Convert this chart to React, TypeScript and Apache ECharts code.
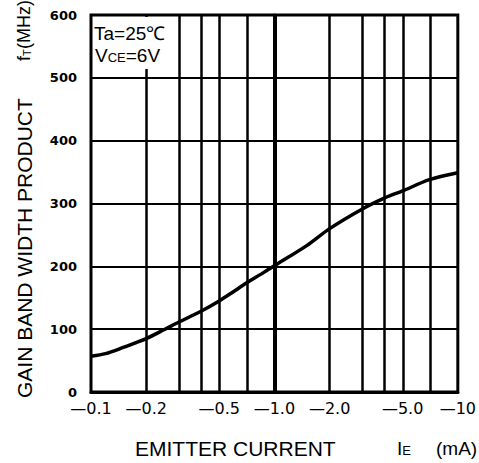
import React, { useEffect, useRef } from "react";
import * as echarts from "echarts";

// Emitter current magnitude (mA) and gain-bandwidth product fT (MHz)
const currents = [0.1, 0.12, 0.15, 0.2, 0.25, 0.3, 0.4, 0.5, 0.6, 0.7, 0.85, 1.0, 1.5, 2, 3, 4, 5, 7, 10];
const fT = [57, 61, 71, 85, 99, 111, 129, 145, 160, 173, 188, 201, 233, 260, 291, 309, 320, 338, 349];

// Vertical grid lines (mA magnitude)
const gridCurrents = [0.2, 0.3, 0.4, 0.5, 0.7, 1, 2, 3, 4, 5, 7];
// X tick labels
const labelCurrents = [0.1, 0.2, 0.5, 1, 2, 5, 10];
const labelTexts = ["—0.1", "—0.2", "—0.5", "—1.0", "—2.0", "—5.0", "—10"];
// Y ticks
const yMin = 0;
const yMax = 600;
const yStep = 100;

const FONT = "'Liberation Sans', Arial, sans-serif";
const TICKFONT = "'DejaVu Sans', sans-serif";

export default function App() {
  const ref = useRef<HTMLDivElement>(null);
  useEffect(() => {
    if (!ref.current) return;
    const chart = echarts.init(ref.current, null, { renderer: "svg" });
    const labelLogs = labelCurrents.map((c) => Math.log10(c));
    chart.setOption({
      animation: false,
      backgroundColor: "#fff",
      grid: {
        left: 91,
        right: 17,
        top: 15,
        bottom: 71,
        show: true,
        borderColor: "#000",
        borderWidth: 3,
      },
      xAxis: {
        type: "value",
        min: -1,
        max: 1,
        axisLine: { show: true, lineStyle: { color: "#000", width: 3 } },
        axisTick: { show: false },
        splitLine: { show: false },
        axisLabel: {
          customValues: labelLogs,
          margin: 8,
          color: "#000",
          fontSize: 16,
          fontFamily: TICKFONT,
          formatter: (v: number) => {
            const i = labelLogs.findIndex((l) => Math.abs(l - v) < 1e-6);
            return i >= 0 ? labelTexts[i] : "";
          },
        },
      },
      yAxis: {
        type: "value",
        min: yMin,
        max: yMax,
        interval: yStep,
        axisLine: { show: true, lineStyle: { color: "#000", width: 3 } },
        axisTick: { show: false },
        splitLine: { show: true, lineStyle: { color: "#000", width: 2 } },
        axisLabel: {
          margin: 14,
          color: "#000",
          fontSize: 13,
          fontWeight: "bold",
          fontFamily: TICKFONT,
        },
      },
      series: [
        {
          type: "line",
          data: currents.map((c, i) => [Math.log10(c), fT[i]]),
          smooth: 0.3,
          symbol: "none",
          lineStyle: { color: "#000", width: 3.5 },
          z: 5,
          markLine: {
            silent: true,
            symbol: "none",
            label: { show: false },
            lineStyle: { color: "#000", type: "solid", width: 2.5 },
            data: gridCurrents.map((c) => ({
              xAxis: Math.log10(c),
              lineStyle: { color: "#000", type: "solid", width: c === 1 ? 4 : 2.5 },
            })),
          },
        },
      ],
      graphic: [
        {
          type: "rect",
          left: 93,
          top: 17,
          shape: { width: 82, height: 52 },
          style: { fill: "#fff" },
          z: 10,
        },
        {
          type: "text",
          left: 94,
          top: 24,
          z: 11,
          style: { text: "Ta=25℃", font: `19px ${FONT}`, fill: "#000" },
        },
        {
          type: "text",
          left: 95,
          top: 46,
          z: 11,
          style: {
            text: "{a|V}{s|CE}{a|=6V}",
            fill: "#000",
            rich: {
              a: { fontSize: 19, fontFamily: FONT, fill: "#000", verticalAlign: "bottom" },
              s: { fontSize: 13, fontFamily: FONT, fill: "#000", verticalAlign: "bottom", padding: [0, 0, 1, 0] },
            },
          },
        },
        {
          type: "text",
          x: 135,
          y: 448,
          style: {
            text: "EMITTER CURRENT",
            font: `21px ${FONT}`,
            fill: "#000",
            verticalAlign: "middle",
            align: "left",
          },
        },
        {
          type: "text",
          x: 397,
          y: 448,
          style: {
            text: "{a|I}{s|E}",
            fill: "#000",
            verticalAlign: "middle",
            align: "left",
            rich: {
              a: { fontSize: 19, fontFamily: FONT, fill: "#000", verticalAlign: "bottom" },
              s: { fontSize: 13, fontFamily: FONT, fill: "#000", verticalAlign: "bottom", padding: [0, 0, 1, 0] },
            },
          },
        },
        {
          type: "text",
          x: 436,
          y: 448,
          style: {
            text: "(mA)",
            font: `19px ${FONT}`,
            fill: "#000",
            verticalAlign: "middle",
            align: "left",
          },
        },
        {
          type: "group",
          x: 24,
          y: 398,
          rotation: Math.PI / 2,
          children: [
            {
              type: "text",
              x: 0,
              y: 0,
              style: {
                text: "GAIN BAND WIDTH PRODUCT",
                font: `21px ${FONT}`,
                fill: "#000",
                verticalAlign: "middle",
                align: "left",
              },
            },
            {
              type: "text",
              x: 337,
              y: 0,
              style: {
                text: "f",
                font: `18px ${FONT}`,
                fill: "#000",
                verticalAlign: "middle",
                align: "left",
              },
            },
            {
              type: "text",
              x: 342,
              y: 3,
              style: {
                text: "T",
                font: `11px ${FONT}`,
                fill: "#000",
                verticalAlign: "middle",
                align: "left",
              },
            },
            {
              type: "text",
              x: 349,
              y: 0,
              style: {
                text: "(MHz)",
                font: `18px ${FONT}`,
                fill: "#000",
                verticalAlign: "middle",
                align: "left",
              },
            },
          ],
        },
      ],
    });
    return () => chart.dispose();
  }, []);
  return (
    <div
      ref={ref}
      style={{ position: "fixed", left: 0, top: 0, width: 479, height: 463, background: "#fff" }}
    />
  );
}
